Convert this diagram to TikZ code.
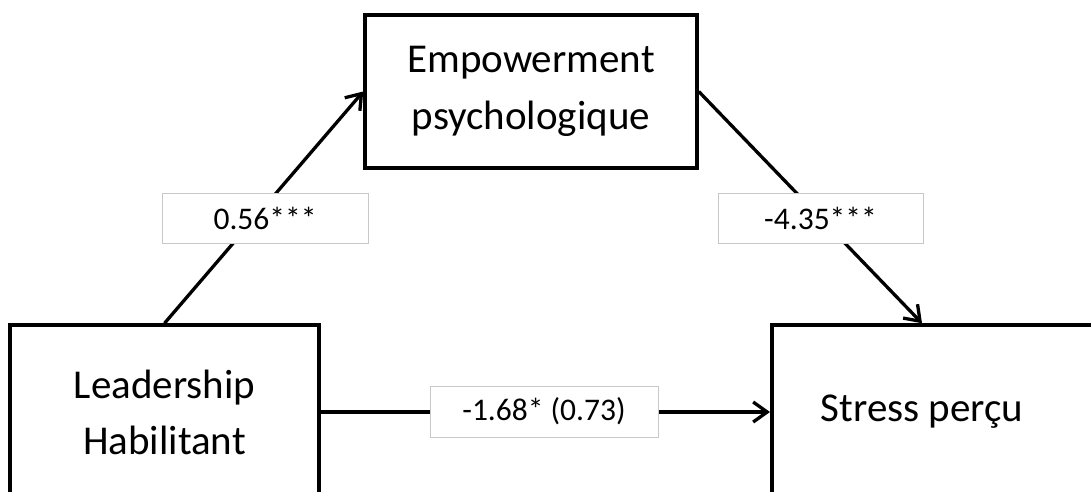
\documentclass[tikz,border=0pt]{standalone}
\usepackage{fontspec}
\setmainfont{Carlito}
\usetikzlibrary{positioning,arrows.meta}
\definecolor{labelgray}{HTML}{C8C8C8}
\tikzset{
  varbox/.style={draw, line width=3.5pt, fill=white, align=center, font=\fontsize{41}{51}\selectfont},
  coefbox/.style={draw=labelgray, line width=0.8pt, fill=white, inner sep=0pt, font=\fontsize{31.5}{38}\selectfont},
  arrow/.style={-{Straight Barb[length=14pt,width=20pt]}, line width=3.3pt}
}
\begin{document}
\begin{tikzpicture}[x=1pt, y=-1pt]
  \useasboundingbox (0,0) rectangle (1091,491);
  \clip (0,0) rectangle (1091,491);

  \node[varbox, minimum width=332pt, minimum height=153pt] (empow) at (531,91.5) {Empowerment\\[6pt]psychologique};
  \node[varbox, minimum width=309pt, minimum height=174pt] (lead) at (164.5,412) {Leadership\\[5pt]Habilitant};
  \node[varbox, minimum width=400pt, minimum height=174pt, anchor=west] (stress) at (770,412) {};
  \node[font=\fontsize{41}{51}\selectfont] (stresstxt) at (922,412) {Stress perçu};

  \draw[arrow] (lead.north) -- (empow.west);
  \draw[arrow] (empow.east) -- (stresstxt |- stress.north);
  \draw[arrow] (lead.east) -- (stress.west);

  \node[coefbox, minimum width=206pt, minimum height=50pt] (a) at (265,218) {0.56***};
  \node[coefbox, minimum width=205pt, minimum height=50pt] (b) at (820.5,218) {-4.35***};
  \node[coefbox, minimum width=228pt, minimum height=51pt] (c) at (544,411.5) {-1.68* (0.73)};
\end{tikzpicture}
\end{document}
